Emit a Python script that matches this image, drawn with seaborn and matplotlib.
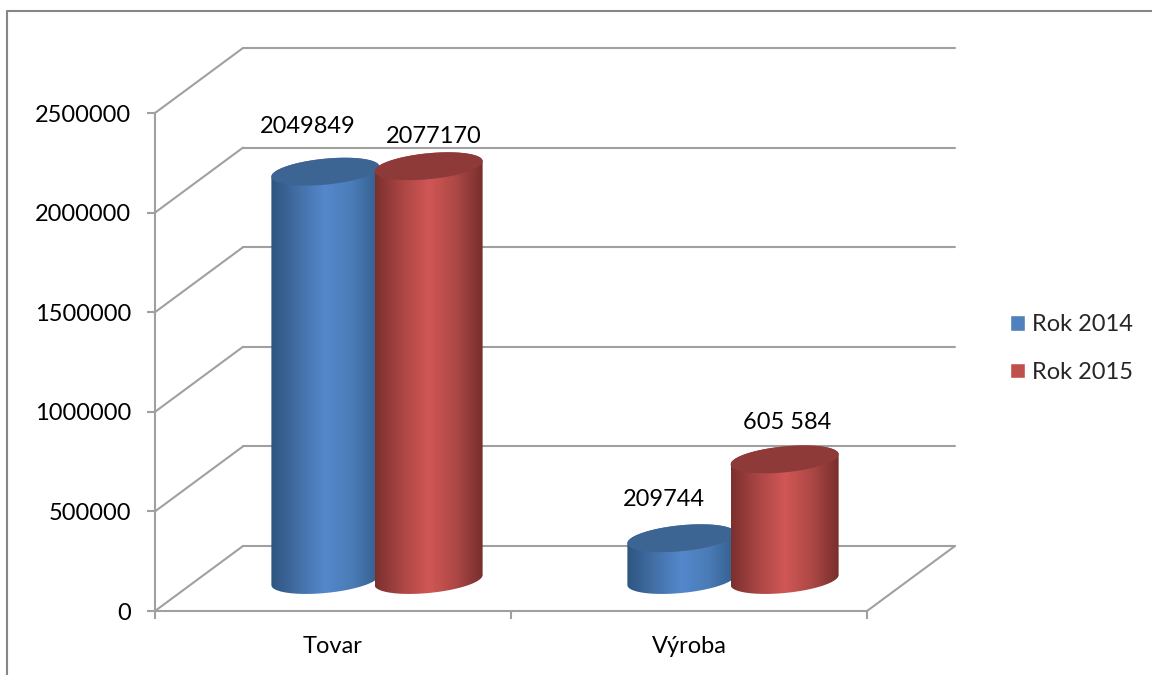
import numpy as np
import pandas as pd
import matplotlib
matplotlib.use('Agg')
import matplotlib.pyplot as plt
import seaborn as sns
from matplotlib.colors import LinearSegmentedColormap
from matplotlib.lines import Line2D
from matplotlib.patches import PathPatch
from matplotlib.path import Path
from matplotlib.transforms import IdentityTransform, ScaledTranslation

categories = ['Tovar', 'Výroba']
rok_2014 = [2049849, 209744]
rok_2015 = [2077170, 605584]
labels_2014 = ['2049849', '209744']
labels_2015 = ['2077170', '605 584']
y_ticks = [0, 500000, 1000000, 1500000, 2000000, 2500000]

W, H = 1152, 675
DPI = 100
GREY = '#a0a0a0'
FS = 17

sns.set_theme(style='white')
plt.rcParams['font.family'] = ['Lato', 'DejaVu Sans']

df = pd.DataFrame({
    'kat': categories * 2,
    'hodnota': rok_2014 + rok_2015,
    'rok': ['Rok 2014'] * 2 + ['Rok 2015'] * 2,
})

fig = plt.figure(figsize=(W / DPI, H / DPI), dpi=DPI)
# front plane of the fake 3d box, in reference pixels
ax = fig.add_axes([155 / W, (H - 611) / H, 712 / W, 498 / H])
sns.barplot(data=df, x='kat', y='hodnota', hue='rok', ax=ax, width=0.58, gap=0,
            saturation=1, palette=['#4f81bd', '#c0504d'])
ax.set_xlim(-0.5, 1.5)
ax.set_ylim(0, 2500000)
ax.set_xlabel('')
ax.set_ylabel('')
ax.patch.set_alpha(0)

sns.move_legend(ax, 'upper left', bbox_to_anchor=(1010 / W, 1 - 314 / H),
                bbox_transform=fig.transFigure, frameon=False, title=None,
                fontsize=FS, handlelength=0.64, handleheight=0.64,
                handletextpad=0.3, labelspacing=1.14, borderpad=0, borderaxespad=0)

# axis look
sns.despine(ax=ax)
for s in ['left', 'bottom']:
    ax.spines[s].set_color(GREY)
    ax.spines[s].set_linewidth(1.5)
ax.set_yticks(y_ticks, [str(v) for v in y_ticks])
ax.set_xticks([0, 1], categories)
ax.set_xticks([-0.5, 0.5, 1.5], minor=True)
ax.tick_params(axis='y', length=6, width=1.5, color=GREY, labelsize=FS, pad=11, left=True, labelcolor='black')
ax.tick_params(axis='x', which='major', length=0, labelsize=FS, pad=18, labelcolor='black')
ax.tick_params(axis='x', which='minor', length=6, width=1.5, color=GREY, bottom=True)

# back wall and floor, the same axes pushed back
depth = ScaledTranslation(88 / DPI, 65 / DPI, fig.dpi_scale_trans)
back = ax.transData + depth
for v in y_ticks:
    ax.plot([-0.5, 1.5], [v, v], color=GREY, lw=1.5, transform=back, clip_on=False, zorder=1)
    start = ax.transData.transform((-0.5, v))
    ax.add_line(Line2D([start[0], start[0] + 88], [start[1], start[1] + 65], color=GREY, lw=1.5,
                       transform=IdentityTransform(), clip_on=False, zorder=1))
corner = ax.transData.transform((1.5, 0))
ax.add_line(Line2D([corner[0], corner[0] + 88], [corner[1], corner[1] + 65], color=GREY, lw=1.5,
                   transform=IdentityTransform(), clip_on=False, zorder=1))

blue_map = LinearSegmentedColormap.from_list('b', ['#2e5580', '#436fa6', '#5488cc', '#4a7cb6', '#345f8e'])
red_map = LinearSegmentedColormap.from_list('r', ['#7b302e', '#aa4644', '#d05755', '#ad4846', '#772e2c'])
styles = [(blue_map, '#3d6593'), (red_map, '#8e3a38')]
grad = np.linspace(0, 1, 256).reshape(1, -1)

# cylinder sits half way into the floor depth
MID_X, MID_Y = 44, 31
A, B, TILT = 54, 13, 0.093


def ring(cx, cy, t):
    return np.column_stack([cx + A * np.cos(t), cy + TILT * A * np.cos(t) + B * np.sin(t)])


for i, cont in enumerate(ax.containers):
    cmap, top_col = styles[i]
    for bar in cont:
        xc = bar.get_x() + bar.get_width() / 2
        px0 = ax.transData.transform((xc, 0))
        px1 = ax.transData.transform((xc, bar.get_height()))
        cx = px0[0] + MID_X
        y0 = px0[1] + MID_Y
        y1 = px1[1] + MID_Y
        t = np.linspace(0, 2 * np.pi, 120)
        low = ring(cx, y0, np.linspace(np.pi, 2 * np.pi, 60))
        up = ring(cx, y1, np.linspace(0, np.pi, 60))
        body = Path(np.vstack([low, up, low[:1]]), closed=True)
        im = ax.imshow(grad, cmap=cmap, aspect='auto', extent=[cx - A, cx + A, y0 - 30, y1 + 30],
                       transform=IdentityTransform(), zorder=2 + i)
        im.set_clip_path(body, IdentityTransform())
        ax.add_patch(PathPatch(Path(ring(cx, y1, t), closed=True), facecolor=top_col, edgecolor='none',
                               transform=IdentityTransform(), clip_on=False, zorder=2.5 + i))
    for bar in cont:
        bar.set_visible(False)

ax.set_xlim(-0.5, 1.5)
ax.set_ylim(0, 2500000)

# data labels, placed by hand like in the original
offsets = [[(-18, 45), (-18, 39)], [(5, 30), (3, 37)]]
texts = [labels_2014, labels_2015]
for i, cont in enumerate(ax.containers):
    for j, bar in enumerate(cont):
        xc = bar.get_x() + bar.get_width() / 2
        ax.annotate(texts[i][j], (xc, bar.get_height()), xycoords='data',
                    xytext=(MID_X + offsets[i][j][0], MID_Y + offsets[i][j][1]),
                    textcoords='offset pixels', ha='center', va='center', fontsize=FS,
                    color='black', zorder=6, annotation_clip=False)

# outer chart frame
fig.add_artist(Line2D([6.5 / W, 6.5 / W], [0, 1 - 11 / H], color='#868686', lw=1.5))
fig.add_artist(Line2D([6.5 / W, 1], [1 - 11 / H, 1 - 11 / H], color='#868686', lw=1.5))

fig.savefig('out.png', dpi=DPI)
